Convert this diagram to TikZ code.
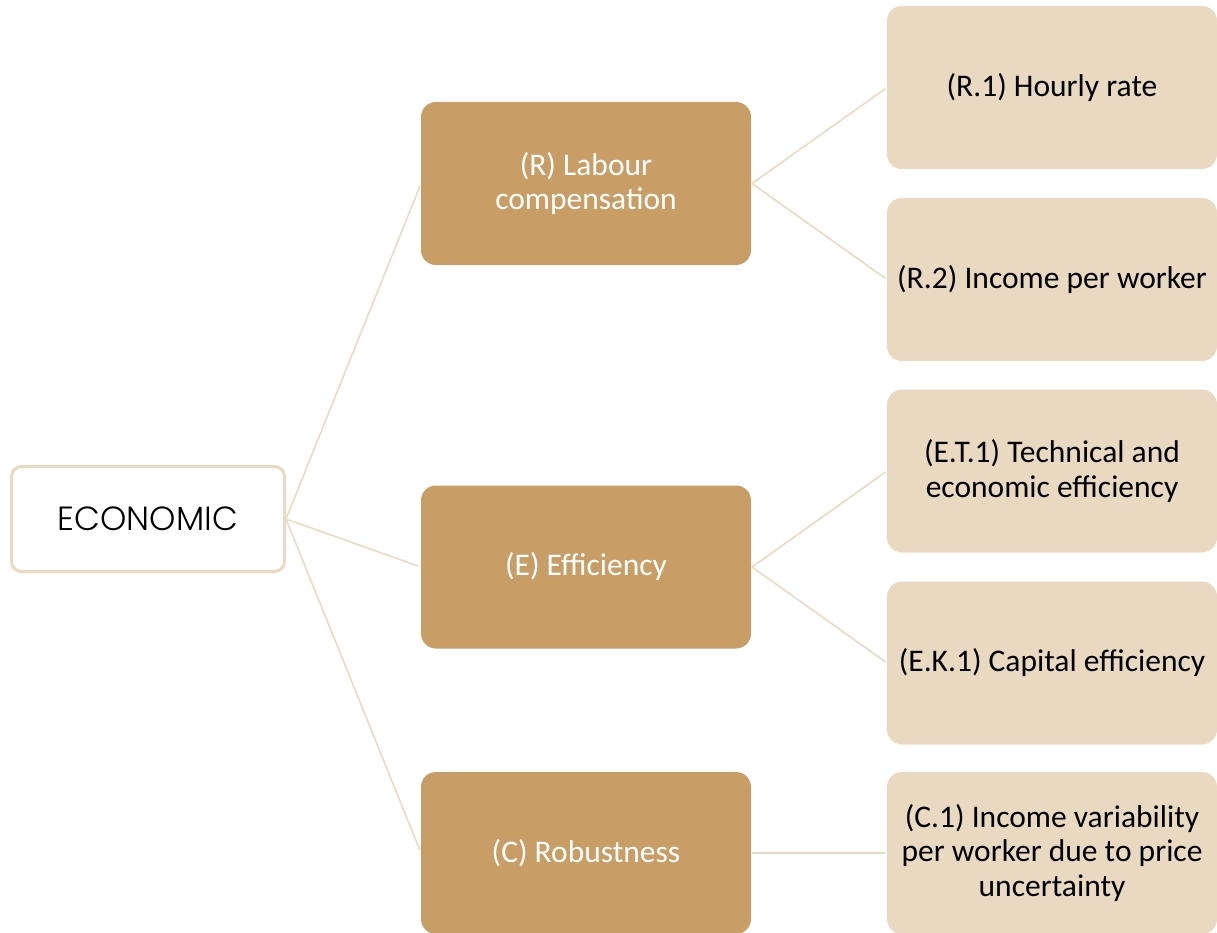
\documentclass[tikz,border=0pt]{standalone}
\usepackage{fontspec}
\setmainfont{Carlito}
\newfontfamily\gothic{Poppins Light}
\definecolor{midfill}{HTML}{C89D66}
\definecolor{leaffill}{HTML}{E9D9C1}
\definecolor{linkcol}{HTML}{EADAC2}
\begin{document}
\begin{tikzpicture}[x=1pt,y=-1pt,
  rootbox/.style={draw=linkcol,line width=3pt,fill=white,rounded corners=10pt,
    minimum width=273pt,minimum height=105pt,inner sep=0pt,outer sep=0pt,
    font=\gothic\fontsize{33.5}{38}\selectfont},
  midbox/.style={fill=midfill,rounded corners=15pt,minimum width=330pt,minimum height=163pt,
    inner sep=0pt,outer sep=0pt,text=white,align=center,font=\fontsize{31.5}{34}\selectfont},
  leafbox/.style={fill=leaffill,rounded corners=15pt,minimum width=330pt,minimum height=163pt,
    inner sep=0pt,outer sep=0pt,text=black,align=center,font=\fontsize{31.5}{34.5}\selectfont},
  link/.style={draw=linkcol,line width=1.6pt}]
\useasboundingbox (0,0) rectangle (1217,933);
% root
\node[rootbox] (econ) at (148,519) {ECONOMIC};
% middle level
\node[midbox] (R) at (586,183.5) {(R) Labour\\compensation};
\node[midbox] (E) at (586,567) {(E) Efficiency};
\node[midbox,minimum height=162pt] (C) at (586,853) {(C) Robustness};
% leaves
\node[leafbox] (R1) at (1052,87.5) {(R.1) Hourly rate};
\node[leafbox] (R2) at (1052,279.5) {(R.2) Income per worker};
\node[leafbox] (ET1) at (1052,471) {(E.T.1) Technical and\\economic efficiency};
\node[leafbox] (EK1) at (1052,663) {(E.K.1) Capital efficiency};
\node[leafbox,minimum height=162pt] (C1) at (1052,853) {(C.1) Income variability\\per worker due to price\\uncertainty};
% connectors
\coordinate (eo) at ([xshift=1.5pt]econ.east);
\draw[link,shorten >=3pt] (eo) -- (R.west);
\draw[link,shorten >=3pt] (eo) -- (E.west);
\draw[link,shorten >=3pt] (eo) -- (C.west);
\coordinate (ro) at ([xshift=1pt]R.east);
\coordinate (eeo) at ([xshift=1pt]E.east);
\coordinate (co) at ([xshift=1pt]C.east);
\draw[link,shorten >=2pt] (ro) -- (R1.west);
\draw[link,shorten >=2pt] (ro) -- (R2.west);
\draw[link,shorten >=2pt] (eeo) -- (ET1.west);
\draw[link,shorten >=2pt] (eeo) -- (EK1.west);
\draw[link,shorten >=2pt] (co) -- (C1.west);
\end{tikzpicture}
\end{document}
